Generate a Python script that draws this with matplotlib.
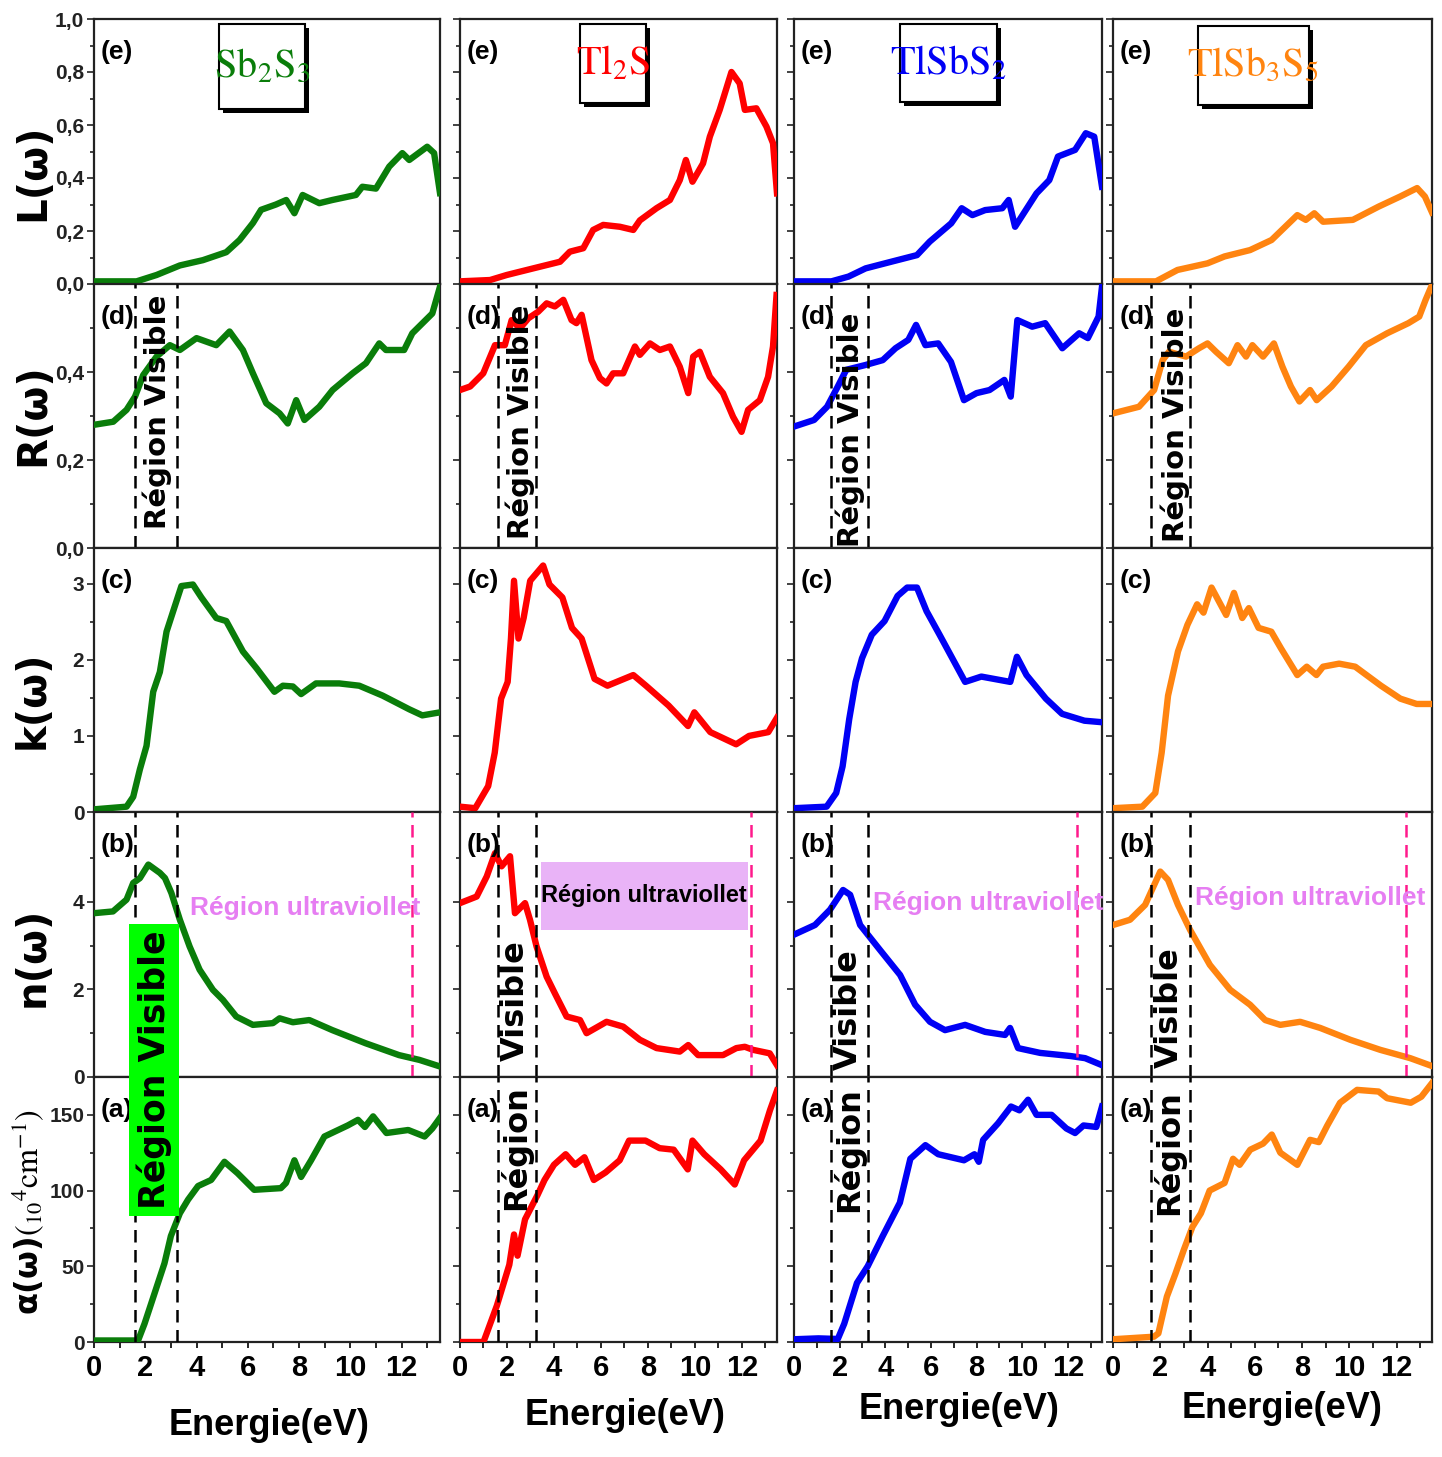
"""Optical properties of Sb2S3, Tl2S, TlSbS2 and TlSb3S5: L, R, k, n and alpha vs energy."""
import matplotlib
matplotlib.use("Agg")
import matplotlib.pyplot as plt
from matplotlib import font_manager, patheffects
from matplotlib.patches import Rectangle
from matplotlib.ticker import FixedLocator, FuncFormatter

# ---------------------------------------------------------------- data
# Sb2S3
sb2s3_L_E = [0, 1.66, 2.44, 3.35, 4.25, 5.16, 5.68, 6.2, 6.52, 7.1, 7.5, 7.82, 8.14, 8.79, 9.3,
             10.22, 10.47, 11.0, 11.52, 12.03, 12.3, 13.0, 13.27, 13.5]
sb2s3_L = [0.01, 0.01, 0.034, 0.07, 0.09, 0.12, 0.166, 0.23, 0.28, 0.30, 0.317, 0.267, 0.336, 0.305,
           0.317, 0.336, 0.367, 0.36, 0.443, 0.494, 0.468, 0.518, 0.494, 0.343]
sb2s3_R_E = [0, 0.75, 1.27, 1.6, 1.92, 2.44, 2.96, 3.35, 4.0, 4.77, 5.29, 5.81, 6.2, 6.72, 7.24,
             7.56, 7.89, 8.21, 8.79, 9.31, 10.09, 10.61, 11.13, 11.39, 12.1, 12.42, 13.2, 13.5]
sb2s3_R = [0.28, 0.287, 0.314, 0.344, 0.393, 0.435, 0.461, 0.45, 0.477, 0.461, 0.492, 0.45, 0.397,
           0.329, 0.306, 0.283, 0.336, 0.291, 0.321, 0.359, 0.397, 0.42, 0.465, 0.45, 0.45, 0.488,
           0.533, 0.594]
sb2s3_k_E = [0, 1.27, 1.53, 1.79, 2.05, 2.31, 2.57, 2.83, 3.09, 3.41, 3.86, 4.19, 4.77, 5.16, 5.81,
             6.34, 7.04, 7.37, 7.76, 8.08, 8.66, 9.57, 10.35, 11.26, 12.3, 12.81, 13.5]
sb2s3_k = [0.035, 0.07, 0.2, 0.56, 0.87, 1.58, 1.84, 2.37, 2.64, 2.97, 2.99, 2.82, 2.55, 2.51, 2.11,
           1.89, 1.58, 1.66, 1.65, 1.55, 1.69, 1.69, 1.66, 1.53, 1.35, 1.27, 1.31]
sb2s3_n_E = [0, 0.74, 1.27, 1.53, 1.79, 2.12, 2.57, 2.77, 3.02, 3.35, 3.73, 4.12, 4.64, 5.03, 5.55,
             6.2, 6.98, 7.24, 7.76, 8.4, 9.3, 10.6, 11.9, 12.7, 13.5]
sb2s3_n = [3.74, 3.78, 4.05, 4.43, 4.54, 4.85, 4.66, 4.54, 4.2, 3.59, 2.98, 2.45, 1.99, 1.76, 1.38,
           1.19, 1.23, 1.34, 1.25, 1.30, 1.07, 0.77, 0.50, 0.39, 0.24]
sb2s3_a_E = [0, 1.72, 1.97, 2.36, 2.75, 3.0, 3.35, 3.67, 4.06, 4.57, 5.09, 5.6, 6.25, 7.29, 7.49,
             7.82, 8.08, 8.47, 8.99, 9.9, 10.3, 10.57, 10.89, 11.41, 12.26, 12.9, 13.2, 13.5]
sb2s3_a = [1, 1, 12, 32, 52, 70, 85, 94, 103, 107, 119, 111.5, 100.5, 101.6, 105, 120, 109, 120,
           135.7, 143, 146.7, 142, 149, 138, 140, 135.7, 141, 148]

# Tl2S
tl2s_L_E = [0, 1.28, 1.99, 3.12, 4.26, 4.68, 5.25, 5.67, 6.1, 6.81, 7.38, 7.66, 8.37, 8.94, 9.36,
            9.62, 9.9, 10.35, 10.64, 11.06, 11.56, 11.91, 12.13, 12.62, 13.05, 13.33, 13.5]
tl2s_L = [0.01, 0.015, 0.034, 0.059, 0.084, 0.122, 0.135, 0.204, 0.223, 0.216, 0.204, 0.24, 0.286,
          0.317, 0.392, 0.468, 0.386, 0.455, 0.556, 0.657, 0.80, 0.757, 0.657, 0.663, 0.594, 0.531,
          0.342]
tl2s_R_E = [0, 0.43, 0.99, 1.49, 1.91, 2.2, 2.55, 2.91, 3.33, 3.69, 4.04, 4.4, 4.75, 4.96, 5.18,
            5.6, 5.96, 6.24, 6.52, 6.95, 7.45, 7.66, 8.09, 8.51, 8.94, 9.36, 9.72, 9.93, 10.21,
            10.64, 11.2, 11.63, 11.99, 12.27, 12.77, 13.12, 13.33, 13.48]
tl2s_R = [0.359, 0.367, 0.397, 0.461, 0.461, 0.518, 0.499, 0.522, 0.537, 0.556, 0.549, 0.564,
          0.518, 0.511, 0.53, 0.427, 0.386, 0.374, 0.397, 0.397, 0.458, 0.439, 0.465, 0.45, 0.458,
          0.412, 0.352, 0.435, 0.446, 0.389, 0.352, 0.298, 0.264, 0.314, 0.336, 0.389, 0.458, 0.575]
tl2s_k_E = [0, 0.65, 1.2, 1.48, 1.75, 2.03, 2.17, 2.3, 2.49, 2.71, 2.99, 3.21, 3.54, 3.81, 4.36,
            4.77, 5.18, 5.73, 6.28, 7.38, 7.92, 8.88, 9.71, 9.98, 10.66, 11.76, 12.31, 13.13, 13.5]
tl2s_k = [0.07, 0.05, 0.34, 0.78, 1.49, 1.71, 2.28, 3.04, 2.28, 2.55, 3.04, 3.12, 3.24, 2.99, 2.82,
          2.42, 2.28, 1.75, 1.66, 1.80, 1.66, 1.40, 1.13, 1.31, 1.05, 0.89, 1.0, 1.05, 1.24]
tl2s_n_E = [0, 0.71, 1.14, 1.49, 1.77, 2.13, 2.34, 2.77, 2.98, 3.26, 3.69, 4.04, 4.54, 5.11, 5.39,
            6.24, 6.95, 7.66, 8.37, 9.36, 9.72, 10.14, 11.2, 11.77, 12.13, 12.48, 13.19, 13.5]
tl2s_n = [3.97, 4.12, 4.58, 5.11, 4.81, 5.04, 3.74, 3.97, 3.59, 2.98, 2.29, 1.91, 1.38, 1.30, 1.0,
          1.26, 1.15, 0.85, 0.66, 0.58, 0.73, 0.5, 0.5, 0.66, 0.69, 0.62, 0.54, 0.27]
tl2s_a_E = [0, 1.0, 1.57, 2.1, 2.3, 2.45, 2.77, 3.3, 3.6, 4.0, 4.5, 4.9, 5.3, 5.7, 6.2, 6.8, 7.2,
            7.9, 8.5, 9.1, 9.7, 9.9, 10.4, 11.1, 11.7, 12.1, 12.8, 13.2, 13.5]
tl2s_a = [0, 0, 24, 51, 71, 57, 81, 97, 107, 117, 124, 117, 122, 107, 112, 120, 133, 133, 128, 127,
          114, 133, 124, 114, 104, 120, 133, 153, 166]

# TlSbS2
tlsbs2_L_E = [0, 1.64, 2.39, 3.14, 4.26, 5.39, 5.95, 6.89, 7.35, 7.82, 8.38, 9.13, 9.41, 9.69,
              10.63, 11.19, 11.57, 12.32, 12.79, 13.16, 13.5]
tlsbs2_L = [0.01, 0.01, 0.028, 0.059, 0.084, 0.109, 0.16, 0.229, 0.286, 0.26, 0.279, 0.286, 0.317,
            0.216, 0.342, 0.392, 0.481, 0.506, 0.569, 0.556, 0.367]
tlsbs2_R_E = [0, 0.88, 1.45, 1.92, 2.29, 3.14, 3.89, 4.45, 5.01, 5.35, 5.76, 6.32, 6.88, 7.45, 8.0,
              8.57, 9.22, 9.5, 9.79, 10.44, 11.01, 11.76, 12.5, 12.88, 13.35, 13.5]
tlsbs2_R = [0.276, 0.291, 0.321, 0.367, 0.405, 0.416, 0.427, 0.454, 0.473, 0.507, 0.461, 0.465,
            0.423, 0.336, 0.352, 0.359, 0.382, 0.344, 0.518, 0.503, 0.511, 0.454, 0.488, 0.477,
            0.526, 0.594]
tlsbs2_k_E = [0, 1.43, 1.85, 2.13, 2.42, 2.7, 2.98, 3.41, 3.97, 4.54, 4.96, 5.39, 5.81, 6.38, 6.94,
              7.5, 8.21, 9.48, 9.77, 10.19, 11.04, 11.75, 12.73, 13.5]
tlsbs2_k = [0.05, 0.07, 0.25, 0.6, 1.22, 1.71, 2.02, 2.33, 2.51, 2.84, 2.95, 2.95, 2.64, 2.33, 2.02,
            1.71, 1.78, 1.71, 2.04, 1.80, 1.49, 1.29, 1.2, 1.18]
tlsbs2_n_E = [0, 0.92, 1.58, 2.15, 2.46, 2.9, 3.77, 4.65, 5.31, 5.96, 6.62, 7.5, 8.38, 9.25, 9.47,
              9.82, 10.79, 12.1, 12.76, 13.5]
tlsbs2_n = [3.25, 3.47, 3.82, 4.27, 4.16, 3.47, 2.9, 2.33, 1.65, 1.26, 1.07, 1.19, 1.03, 0.96, 1.12,
            0.66, 0.55, 0.48, 0.43, 0.27]
tlsbs2_a_E = [0, 1.07, 1.92, 2.2, 2.76, 3.23, 3.89, 4.64, 5.1, 5.76, 6.32, 7.45, 7.91, 8.1, 8.29,
              8.95, 9.51, 9.88, 10.26, 10.63, 11.29, 11.94, 12.32, 12.69, 13.25, 13.5]
tlsbs2_a = [1.8, 2.4, 2, 12, 39, 50, 70, 92, 121, 130, 124, 120, 124, 119, 133.5, 144.5, 155.5, 153,
            160, 150, 150, 141, 138, 143, 142, 155.5]

# TlSb3S5
tlsb3s5_L_E = [0, 1.82, 2.73, 4.0, 4.72, 5.8, 6.71, 7.8, 8.16, 8.52, 8.89, 10.15, 11.24, 12.15,
               12.87, 13.2, 13.5]
tlsb3s5_L = [0.01, 0.01, 0.053, 0.078, 0.104, 0.128, 0.166, 0.26, 0.242, 0.267, 0.235, 0.242,
             0.292, 0.33, 0.362, 0.33, 0.27]
tlsb3s5_R_E = [0, 1.1, 1.74, 2.1, 2.37, 3.09, 3.64, 4.0, 4.36, 4.9, 5.27, 5.63, 5.9, 6.35, 6.81,
               7.17, 7.53, 7.89, 8.34, 8.62, 9.25, 9.97, 10.7, 11.6, 12.5, 12.96, 13.23, 13.5]
tlsb3s5_R = [0.306, 0.321, 0.359, 0.427, 0.446, 0.435, 0.454, 0.465, 0.446, 0.42, 0.461, 0.435,
             0.461, 0.435, 0.465, 0.412, 0.367, 0.333, 0.359, 0.336, 0.367, 0.412, 0.461, 0.488,
             0.511, 0.526, 0.564, 0.598]
tlsb3s5_k_E = [0, 1.24, 1.79, 2.06, 2.33, 2.75, 3.15, 3.56, 3.83, 4.17, 4.79, 5.12, 5.47, 5.75,
               6.16, 6.7, 7.11, 7.8, 8.2, 8.61, 8.89, 9.57, 10.25, 11.34, 12.16, 12.85, 13.5]
tlsb3s5_k = [0.05, 0.07, 0.25, 0.78, 1.53, 2.11, 2.46, 2.73, 2.62, 2.95, 2.59, 2.88, 2.55, 2.68,
             2.42, 2.37, 2.15, 1.80, 1.91, 1.80, 1.91, 1.95, 1.91, 1.66, 1.49, 1.42, 1.42]
tlsb3s5_n_E = [0, 0.72, 1.36, 2.0, 2.33, 2.75, 3.26, 4.1, 4.96, 5.8, 6.44, 7.08, 7.92, 8.77, 10.04,
               11.31, 12.58, 13.5]
tlsb3s5_n = [3.47, 3.59, 3.93, 4.69, 4.5, 3.93, 3.36, 2.56, 1.99, 1.65, 1.3, 1.19, 1.26, 1.12, 0.85,
             0.62, 0.43, 0.25]
tlsb3s5_a_E = [0, 1.73, 1.92, 2.28, 2.64, 3.0, 3.36, 3.72, 4.09, 4.72, 5.08, 5.36, 5.81, 6.35, 6.72,
               7.08, 7.8, 8.34, 8.71, 9.07, 9.61, 10.33, 11.24, 11.6, 12.6, 13.05, 13.5]
tlsb3s5_a = [1.8, 3.5, 5.7, 30, 45, 61, 76, 85, 100, 105, 121, 117, 127, 131, 137, 125, 117, 133.5,
             132, 143, 158, 166.5, 165.4, 161, 158, 162, 171]

materials = [r"$\mathrm{Sb_2S_3}$", r"$\mathrm{Tl_2S}$", r"$\mathrm{TlSbS_2}$", r"$\mathrm{TlSb_3S_5}$"]
colors = ["#0a7d0a", "#ff0000", "#0000f5", "#ff8410"]
curves = [
    [(sb2s3_L_E, sb2s3_L), (sb2s3_R_E, sb2s3_R), (sb2s3_k_E, sb2s3_k), (sb2s3_n_E, sb2s3_n), (sb2s3_a_E, sb2s3_a)],
    [(tl2s_L_E, tl2s_L), (tl2s_R_E, tl2s_R), (tl2s_k_E, tl2s_k), (tl2s_n_E, tl2s_n), (tl2s_a_E, tl2s_a)],
    [(tlsbs2_L_E, tlsbs2_L), (tlsbs2_R_E, tlsbs2_R), (tlsbs2_k_E, tlsbs2_k), (tlsbs2_n_E, tlsbs2_n), (tlsbs2_a_E, tlsbs2_a)],
    [(tlsb3s5_L_E, tlsb3s5_L), (tlsb3s5_R_E, tlsb3s5_R), (tlsb3s5_k_E, tlsb3s5_k), (tlsb3s5_n_E, tlsb3s5_n), (tlsb3s5_a_E, tlsb3s5_a)],
]
panel_tags = ["(e)", "(d)", "(c)", "(b)", "(a)"]
row_ylabels = ["L(ω)", "R(ω)", "k(ω)", "n(ω)",
               r"α(ω)$\left({}_{10}{}^{4}\mathrm{cm}^{-1}\right)$"]
row_ylim = [(0, 1.0), (0, 0.6), (0, 3.47), (0, 6.05), (0, 175)]
row_major = [[0, 0.2, 0.4, 0.6, 0.8, 1.0], [0, 0.2, 0.4], [0, 1, 2, 3], [0, 2, 4], [0, 50, 100, 150]]
row_minor = [[0.1, 0.3, 0.5, 0.7, 0.9], [0.1, 0.3, 0.5], [0.5, 1.5, 2.5], [1, 3, 5], [25, 75, 125]]
x_ticks = [0, 2, 4, 6, 8, 10, 12]
visible_lo, visible_hi = 1.6, 3.25
uv_edge = 12.4

# ---------------------------------------------------------------- style
names = {f.name for f in font_manager.fontManager.ttflist}
NARROW = "Liberation Sans Narrow" if "Liberation Sans Narrow" in names else "Liberation Sans"
plt.rcParams["mathtext.fontset"] = "stix"

W, H = 1442, 1457
col_px = [(94, 440), (460, 777), (794, 1102), (1113, 1432)]
row_px = [19, 284, 548, 812, 1077, 1342]

fig = plt.figure(figsize=(W / 100, H / 100), dpi=100)
fig.patch.set_facecolor("white")

# compound label boxes (axes fraction) and other annotation anchors
box_pos = [(0.361, 0.66, 0.249, 0.321), (0.379, 0.683, 0.208, 0.298),
           (0.344, 0.687, 0.315, 0.294), (0.266, 0.675, 0.348, 0.299)]
vis_R_pos = [(2.45, 0.515), (2.55, 0.477), (2.46, 0.447), (2.63, 0.466)]
uv_pos = [(3.74, 3.86), (7.85, 4.14), (3.46, 3.98), (3.47, 4.09)]
uv_box = (0.256, 0.555, 0.653, 0.256)
xlabel_pos = [(0.506, -0.25), (0.52, -0.21), (0.536, -0.19), (0.53, -0.185)]


def comma_fmt(dec):
    return FuncFormatter(lambda v, _: (f"{v:.{dec}f}").replace(".", ","))


for c in range(4):
    l, r = col_px[c]
    for row in range(5):
        top, bot = row_px[row], row_px[row + 1]
        ax = fig.add_axes([l / W, 1 - bot / H, (r - l) / W, (bot - top) / H])
        E, vals = curves[c][row]
        ax.plot(E, vals, color=colors[c], lw=4.6, solid_joinstyle="round", zorder=3)

        ax.set_xlim(0, 13.5)
        ax.set_ylim(*row_ylim[row])
        ax.yaxis.set_major_locator(FixedLocator(row_major[row]))
        ax.yaxis.set_minor_locator(FixedLocator(row_minor[row]))
        ax.xaxis.set_major_locator(FixedLocator(x_ticks))
        ax.xaxis.set_minor_locator(FixedLocator([1, 3, 5, 7, 9, 11, 13]))
        for sp in ax.spines.values():
            sp.set_linewidth(1.6)
            sp.set_color("#222222")

        ax.tick_params(axis="y", which="both", direction="out", left=True, right=False,
                       width=1.2, colors="#222222")
        ax.tick_params(axis="y", which="major", length=5)
        ax.tick_params(axis="y", which="minor", length=3)
        if c == 0:
            ax.yaxis.set_major_formatter(comma_fmt(1) if row < 2 else comma_fmt(0))
            ax.tick_params(axis="y", pad=2, labelsize=15)
            for t in ax.get_yticklabels():
                t.set_fontweight("bold")
                t.set_fontfamily(NARROW)
        else:
            ax.tick_params(axis="y", labelleft=False)

        if row == 4:
            ax.tick_params(axis="x", which="both", direction="out", bottom=True, top=False,
                           width=1.2, length=4, pad=5, labelsize=21)
            for t in ax.get_xticklabels():
                t.set_fontweight("bold")
                t.set_fontfamily(NARROW)
            ax.set_xlabel("Energie(eV)", fontfamily=NARROW, fontweight="bold", fontsize=26)
            ax.xaxis.set_label_coords(*xlabel_pos[c])
        else:
            ax.tick_params(axis="x", which="both", bottom=False, top=False, labelbottom=False)

        ax.text(0.02, 0.875, panel_tags[row], transform=ax.transAxes, ha="left", va="center",
                fontfamily=NARROW, fontweight="bold", fontsize=19, zorder=6)

        # visible-region boundaries
        if row in (1, 3, 4):
            for xv in (visible_lo, visible_hi):
                ax.axvline(xv, color="black", lw=1.8, ls=(0, (5, 3)), zorder=4)

        if row == 0:
            bx, by, bw, bh = box_pos[c]
            rect = Rectangle((bx, by), bw, bh, transform=ax.transAxes, facecolor="white",
                             edgecolor="black", lw=1.5, zorder=5)
            rect.set_path_effects([patheffects.SimplePatchShadow(offset=(3, -3), shadow_rgbFace="black",
                                                                 alpha=1.0), patheffects.Normal()])
            ax.add_patch(rect)
            ax.text(bx + bw / 2, by + bh / 2, materials[c], transform=ax.transAxes,
                    ha="center", va="center", color=colors[c], fontsize=29, zorder=6)

        if row == 1:
            xv, yv = vis_R_pos[c]
            ax.text(xv, yv, "Région Visible", transform=ax.get_xaxis_transform(), rotation=90,
                    ha="center", va="center", fontweight="bold", fontsize=21, zorder=6)

        if row == 3:
            ax.axvline(uv_edge, color="#ff1a8c", lw=1.8, ls=(0, (5, 3)), zorder=4)
            xu, yu = uv_pos[c]
            if c == 1:
                ax.add_patch(Rectangle(uv_box[:2], uv_box[2], uv_box[3], transform=ax.transAxes,
                                       facecolor="#e9b3f7", edgecolor="none", zorder=5))
                ax.text(xu, yu, "Région ultraviollet", ha="center", va="center", fontfamily=NARROW,
                        fontweight="bold", fontsize=17, color="black", zorder=6)
            else:
                ax.text(xu, yu, "Région ultraviollet", ha="left", va="center", fontfamily=NARROW,
                        fontweight="bold", fontsize=19, color="#e67ef2", zorder=6)
            if c > 0:
                ax.text((visible_lo + visible_hi) / 2 - 0.05, [0, 0.29, 0.253, 0.26][c], "Visible",
                        transform=ax.get_xaxis_transform(), rotation=90, ha="center", va="center",
                        fontweight="bold", fontsize=23, zorder=6)

        if row == 4 and c > 0:
            ax.text((visible_lo + visible_hi) / 2 - 0.05, [0, 0.732, 0.725, 0.713][c], "Région",
                    transform=ax.get_xaxis_transform(), rotation=90, ha="center", va="center",
                    fontweight="bold", fontsize=23, zorder=6)

# y-axis labels on the far left
ylabel_y = [172, 415, 700, 957, 1212]
for row in range(5):
    fs = 23 if row == 4 else 29
    xpos = 28 if row == 4 else 33
    fig.text(xpos / W, 1 - ylabel_y[row] / H, row_ylabels[row], rotation=90, ha="center",
             va="center", fontweight="bold", fontsize=fs)

# green "Région Visible" tag spanning panels (b) and (a) of the first column
fig.text(154 / W, 1 - 1070 / H, "Région Visible", rotation=90, ha="center", va="center",
         fontweight="bold", fontsize=25, zorder=10,
         bbox=dict(boxstyle="square,pad=0.2", facecolor="#00ff00", edgecolor="none"))

fig.savefig("out.png", dpi=100)
